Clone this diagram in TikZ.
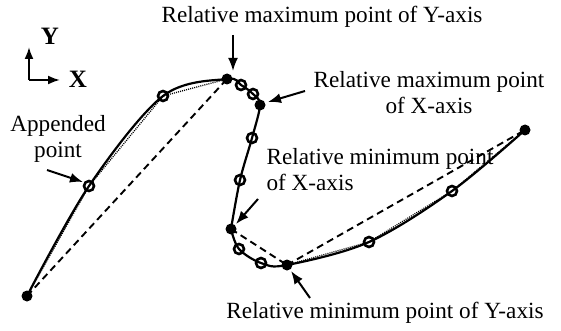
\documentclass[tikz,border=0pt]{standalone}
\usepackage{fontspec}
\setmainfont{Liberation Serif}
\usetikzlibrary{arrows.meta}
\tikzset{
  fdot/.style={circle,fill=black,inner sep=0pt,minimum size=11pt},
  odot/.style={circle,draw=black,line width=2.6pt,inner sep=0pt,minimum size=10pt},
  lbl/.style={font=\fontsize{23.2}{26}\selectfont,inner sep=0pt,align=center},
  axlbl/.style={font=\fontsize{25}{28}\selectfont\bfseries,inner sep=0pt},
  pointer/.style={line width=2pt,-{Latex[length=13pt,width=10pt]}},
  axisarrow/.style={line width=2pt,-{Latex[length=12pt,width=9pt]}},
  chord/.style={line width=1.9pt,dash pattern=on 7pt off 4.5pt},
  fine/.style={line width=1.3pt,dash pattern=on 1pt off 1.1pt},
  curve/.style={line width=2.2pt}
}
\begin{document}
\begin{tikzpicture}[x=1pt,y=-1pt]
\useasboundingbox (0,0) rectangle (561,331);
% sample points
\coordinate (p0) at (27,296);
\coordinate (a) at (89,186);
\coordinate (b) at (163,96);
\coordinate (p1) at (227,79);
\coordinate (c) at (241,85);
\coordinate (d) at (253,94);
\coordinate (p2) at (260,105);
\coordinate (e) at (252,138);
\coordinate (f) at (240,180);
\coordinate (p3) at (231,229);
\coordinate (g) at (239,249);
\coordinate (h) at (261,263);
\coordinate (p4) at (287,265);
\coordinate (i) at (369,242);
\coordinate (j) at (452,191);
\coordinate (p5) at (525,130);
% chords
\draw[chord] (p0) -- (p1);
\draw[chord] (p3) -- (p4);
\draw[chord] (p4) -- (p5);
% dotted approximations
\draw[fine] (p0) -- (a) -- (b) -- (p1);
\draw[fine] (p4) -- (i) -- (j) -- (p5);
% smooth curve
\draw[curve] plot[smooth,tension=0.55] coordinates {(p0) (a) (b) (p1) (c) (d) (p2) (e) (f) (p3)};
\draw[curve] plot[smooth,tension=0.55] coordinates {(p3) (g) (h) (p4) (i) (j) (p5)};
% markers
\foreach \n in {p0,p1,p2,p3,p4,p5} \node[fdot] (N\n) at (\n) {};
\foreach \n in {a,b,c,d,e,f,g,h,i,j} \node[odot] (N\n) at (\n) {};
% axis icon
\coordinate (ax) at (29,80);
\coordinate (ay) at (29,47);
\coordinate (axx) at (60,80);
\draw[axisarrow] (ax) -- (ay);
\draw[axisarrow] (ax) -- (axx);
\node[axlbl] (ylab) at (50,36) {Y};
\node[axlbl] (xlab) at (78,79) {X};
% labels
\node[lbl] (tmaxy) at (322,17) {Relative maximum point of Y-axis};
\node[lbl] (tmaxx) at (429,93) {Relative maximum point\\of X-axis};
\node[lbl,align=left] (tminx) at (380,170) {Relative minimum point\\of X-axis};
\node[lbl] (tapp) at (58,139) {Appended\\point};
\node[lbl] (tminy) at (385,313) {Relative minimum point of Y-axis};
% pointer arrows
\coordinate (s1) at (233,35);
\coordinate (s2) at (305,91);
\coordinate (s3) at (258,199);
\coordinate (s4) at (47,170);
\coordinate (s5) at (310,298);
\draw[pointer] (s1) -- (233,71);
\draw[pointer] (s2) -- (268,102);
\draw[pointer] (s3) -- (236,224);
\draw[pointer] (s4) -- (83,182);
\draw[pointer] (s5) -- (291,271);
\end{tikzpicture}
\end{document}
